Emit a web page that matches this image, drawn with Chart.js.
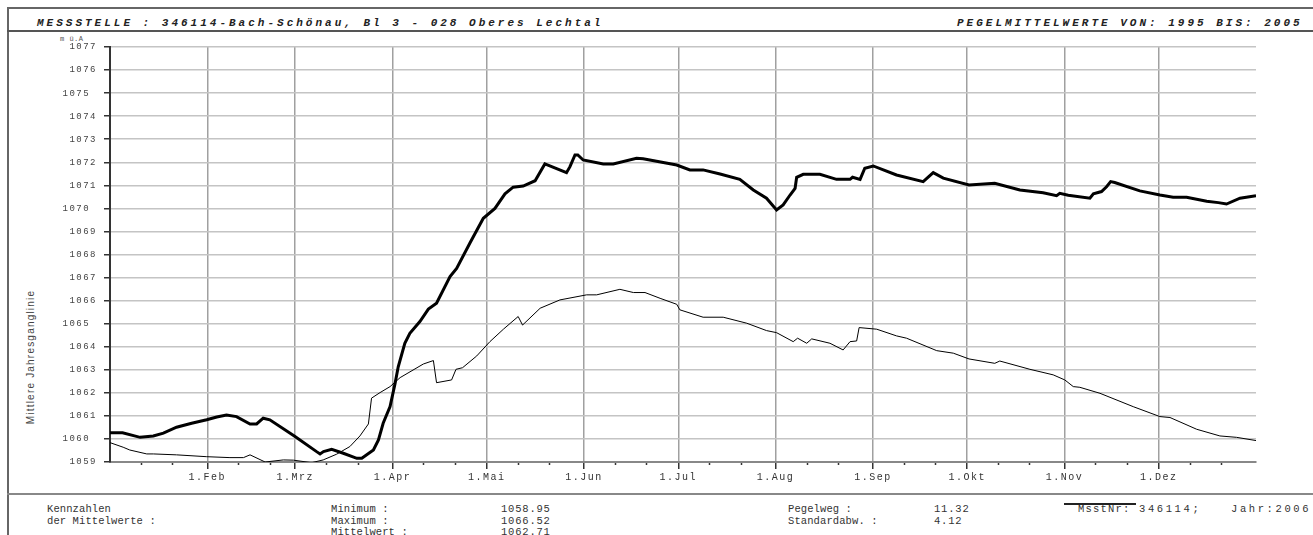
<!DOCTYPE html>
<html>
<head>
<meta charset="utf-8">
<script src="https://cdn.jsdelivr.net/npm/chart.js@4"></script>
<style>
  body { margin: 0; background: #fff; width: 1313px; height: 535px; overflow: hidden; position: relative; font-family: "Liberation Mono", monospace; }
  .t { position: absolute; white-space: pre; color: #333; }
  .hd { font-size: 11px; font-weight: bold; font-style: italic; letter-spacing: 3px; color: #222; top: 17px; }
  .ft { font-size: 10.5px; letter-spacing: 0.1px; }
  .num { letter-spacing: 0.8px; }
  .line { position: absolute; background: #666; }
  #wrap { position: absolute; left: 20px; top: 32px; width: 1250px; height: 460px; }
</style>
</head>
<body>
<div class="line" style="left:7px;top:7px;width:1306px;height:2px;"></div>
<div class="line" style="left:7px;top:7px;width:2px;height:528px;"></div>
<div class="line" style="left:7px;top:30px;width:1306px;height:2px;background:#555;"></div>
<div class="line" style="left:7px;top:493px;width:1306px;height:2px;background:#888;"></div>

<div class="t hd" style="left:37px;">MESSSTELLE : 346114-Bach-Schönau, Bl 3 - 028 Oberes Lechtal</div>
<div class="t hd" style="left:957px;">PEGELMITTELWERTE VON: 1995 BIS: 2005</div>

<div class="t" style="left:60px;top:35px;font-size:7px;letter-spacing:0.5px;color:#555;">m ü.A</div>
<div class="t" style="left:30px;top:357px;font-size:10px;letter-spacing:1.2px;font-family:'Liberation Sans',sans-serif;color:#444;transform:translate(-50%,-50%) rotate(-90deg);">Mittlere Jahresganglinie</div>

<div id="wrap"><canvas id="chart"></canvas></div>

<div class="t ft" style="left:47px;top:503px;">Kennzahlen</div>
<div class="t ft" style="left:47px;top:515px;">der Mittelwerte :</div>
<div class="t ft" style="left:331px;top:503px;">Minimum :</div>
<div class="t ft" style="left:331px;top:515px;">Maximum :</div>
<div class="t ft" style="left:331px;top:526px;">Mittelwert :</div>
<div class="t ft num" style="left:501px;top:503px;">1058.95</div>
<div class="t ft num" style="left:501px;top:515px;">1066.52</div>
<div class="t ft num" style="left:501px;top:526px;">1062.71</div>
<div class="t ft" style="left:788px;top:503px;">Pegelweg :</div>
<div class="t ft" style="left:788px;top:515px;">Standardabw. :</div>
<div class="t ft num" style="left:934px;top:503px;">11.32</div>
<div class="t ft num" style="left:934px;top:515px;">4.12</div>
<div class="line" style="left:1064px;top:503px;width:72px;height:1.5px;background:#222;"></div>
<div class="t ft" style="left:1078px;top:503px;letter-spacing:1.2px;">MsstNr:</div>
<div class="t ft" style="left:1139px;top:503px;letter-spacing:2.6px;">346114;</div>
<div class="t ft" style="left:1231px;top:503px;letter-spacing:2.6px;">Jahr:2006</div>

<script>
// Day of year (0 = 1. Jan) and water level in m ü.A
const yearDays = [0, 4, 9.6, 13.8, 17, 21.2, 26, 30.8, 34, 37.1, 40.3, 44.6, 46.7, 48.8, 50.9, 58.7,
  65.8, 66.9, 68, 70.6, 74.3, 78.6, 80.2, 83.9, 85.5, 87, 89.2, 90.8, 91.8, 93.9, 95.5, 98.7,
  101.4, 104, 108.3, 110.4, 114.6, 118.9, 122.6, 125.8, 128.4, 131.6, 135.4, 138.5, 145.4, 146.5,
  148.1, 149, 150.7, 157.1, 160.3, 167.7, 169.8, 180.5, 184.7, 188.9, 194.3, 200.6, 204.9, 209.1,
  212.3, 214.4, 216.6, 218.2, 218.7, 220.8, 226.1, 231.4, 235.7, 236.5, 238.9, 240.4, 243.1, 250.5,
  259, 262.2, 265.4, 273.6, 281.8, 289.8, 297.2, 301.5, 302.5, 305.2, 312.1, 313.2, 315.8, 317.4,
  318.7, 320, 328, 334.4, 338.6, 342.9, 349.3, 353, 355.6, 359.9, 365];
const yearLevels = [1060.27, 1060.27, 1060.07, 1060.13, 1060.25, 1060.51, 1060.68, 1060.83, 1060.95, 1061.04, 1060.97, 1060.65, 1060.65, 1060.90, 1060.83, 1060.13,
  1059.45, 1059.35, 1059.45, 1059.55, 1059.38, 1059.16, 1059.16, 1059.52, 1059.96, 1060.68, 1061.40, 1062.41, 1063.13, 1064.15, 1064.58, 1065.09,
  1065.63, 1065.89, 1067.04, 1067.40, 1068.49, 1069.57, 1070.00, 1070.63, 1070.92, 1070.97, 1071.20, 1071.93, 1071.55, 1071.81,
  1072.32, 1072.32, 1072.10, 1071.93, 1071.93, 1072.17, 1072.15, 1071.88, 1071.67, 1071.67, 1071.49, 1071.26, 1070.80, 1070.44,
  1069.93, 1070.15, 1070.58, 1070.87, 1071.35, 1071.48, 1071.48, 1071.26, 1071.26, 1071.35, 1071.26, 1071.74, 1071.84, 1071.45,
  1071.16, 1071.55, 1071.31, 1071.02, 1071.09, 1070.80, 1070.68, 1070.55, 1070.65, 1070.57, 1070.44, 1070.63, 1070.73, 1070.94,
  1071.16, 1071.12, 1070.76, 1070.58, 1070.48, 1070.48, 1070.31, 1070.25, 1070.19, 1070.44, 1070.55];

const meanDays = [0, 4.2, 6.3, 11.7, 13.8, 21.2, 30.8, 38.2, 42.5, 44.6, 49.4, 55.2, 58.4, 64.2, 67.9, 72.2,
  76.4, 79.6, 82.3, 83.3, 86, 89.2, 92.4, 99.8, 103, 104, 108.8, 110.2, 112.3, 116.8, 121, 125.3,
  130, 131.4, 137, 143.3, 151.8, 155, 162.4, 166.7, 170.4, 175.2, 180.5, 181.5, 188.9, 195.3, 202.8,
  209.1, 212.3, 217.6, 219, 221.9, 223.5, 229.3, 233.5, 235.7, 237.8, 238.6, 244.2, 250.5, 253.7,
  263.3, 268.6, 273.6, 281.8, 283.4, 293, 300.4, 304.1, 306.8, 308.9, 315.3, 325.9, 334.4, 337.6,
  346.1, 353.5, 358.8, 365];
const meanLevels = [1059.84, 1059.64, 1059.52, 1059.35, 1059.35, 1059.31, 1059.23, 1059.19, 1059.19, 1059.31, 1059.00, 1059.09, 1059.08, 1058.97, 1059.09, 1059.34,
  1059.67, 1060.13, 1060.65, 1061.77, 1062.01, 1062.27, 1062.66, 1063.25, 1063.40, 1062.44, 1062.56, 1063.02, 1063.09, 1063.60, 1064.22, 1064.76,
  1065.31, 1064.94, 1065.67, 1066.03, 1066.25, 1066.25, 1066.49, 1066.35, 1066.35, 1066.10, 1065.84, 1065.60, 1065.28, 1065.28, 1065.02,
  1064.70, 1064.61, 1064.22, 1064.37, 1064.15, 1064.34, 1064.15, 1063.86, 1064.22, 1064.25, 1064.83, 1064.76, 1064.47, 1064.37,
  1063.83, 1063.72, 1063.47, 1063.28, 1063.38, 1063.02, 1062.78, 1062.56, 1062.27, 1062.24, 1061.98, 1061.40, 1060.97, 1060.93,
  1060.42, 1060.13, 1060.07, 1059.93];

// month starts and the minor ticks (11th and 21st)
const monthDays = [31, 59, 90, 120, 151, 181, 212, 243, 273, 304, 334];
const monthLabels = ['1.Feb', '1.Mrz', '1.Apr', '1.Mai', '1.Jun', '1.Jul', '1.Aug', '1.Sep', '1.Okt', '1.Nov', '1.Dez'];
const minorDays = [10, 20, 41, 51, 69, 79, 100, 110, 130, 140, 161, 171, 191, 201, 222, 232, 253, 263, 283, 293, 314, 324, 344, 354];

const toPoints = (xs, ys) => xs.map((d, i) => ({ x: d, y: ys[i] }));

// wider letter spacing for the axis texts
const spacing = {
    id: 'spacing',
    beforeDraw(chart) { chart.ctx.letterSpacing = '1.5px'; },
    afterDraw(chart) { chart.ctx.letterSpacing = '0px'; }
};

new Chart(document.getElementById('chart'), {
    type: 'line',
    data: {
        datasets: [{
            label: 'Jahr 2006',
            data: toPoints(yearDays, yearLevels),
            borderColor: '#000',
            borderWidth: 3,
            pointRadius: 0,
            tension: 0
        }, {
            label: 'Mittel 1995-2005',
            data: toPoints(meanDays, meanLevels),
            borderColor: '#000',
            borderWidth: 1,
            pointRadius: 0,
            tension: 0
        }]
    },
    plugins: [spacing],
    options: {
        responsive: true,
        maintainAspectRatio: false,
        animation: false,
        layout: { padding: { top: 15, right: 14, left: 0, bottom: 0 } },
        plugins: { legend: { display: false }, tooltip: { enabled: false } },
        scales: {
            x: {
                type: 'linear',
                min: 0,
                max: 365,
                afterBuildTicks: (scale) => { scale.ticks = monthDays.map(v => ({ value: v })); },
                afterFit: (scale) => { scale.height = 30; },
                ticks: {
                    autoSkip: false,
                    maxRotation: 0,
                    padding: 2,
                    color: '#333',
                    font: { family: "'Liberation Mono', monospace", size: 10 },
                    callback: (v) => monthLabels[monthDays.indexOf(v)]
                },
                grid: { color: '#a0a0a0', lineWidth: 1.5, tickLength: 7, tickColor: '#333' },
                border: { color: '#888', width: 2 }
            },
            xMinor: {
                type: 'linear',
                axis: 'x',
                position: { y: 1059 },
                min: 0,
                max: 365,
                afterBuildTicks: (scale) => { scale.ticks = minorDays.map(v => ({ value: v })); },
                ticks: { display: false },
                grid: { drawOnChartArea: false, tickLength: 3, tickColor: '#333', tickWidth: 1.5 },
                border: { display: false }
            },
            y: {
                min: 1059,
                max: 1077,
                afterFit: (scale) => { scale.width = 90; },
                ticks: {
                    stepSize: 1,
                    padding: 7,
                    color: '#444',
                    font: { family: "'Liberation Mono', monospace", size: 9 },
                    callback: (v) => (v % 5 === 0 ? v + ' ' : String(v))
                },
                grid: { color: '#c4c4c4', lineWidth: 1.5, tickLength: 6, tickColor: '#333' },
                border: { color: '#333', width: 2 }
            }
        }
    }
});
</script>
</body>
</html>
